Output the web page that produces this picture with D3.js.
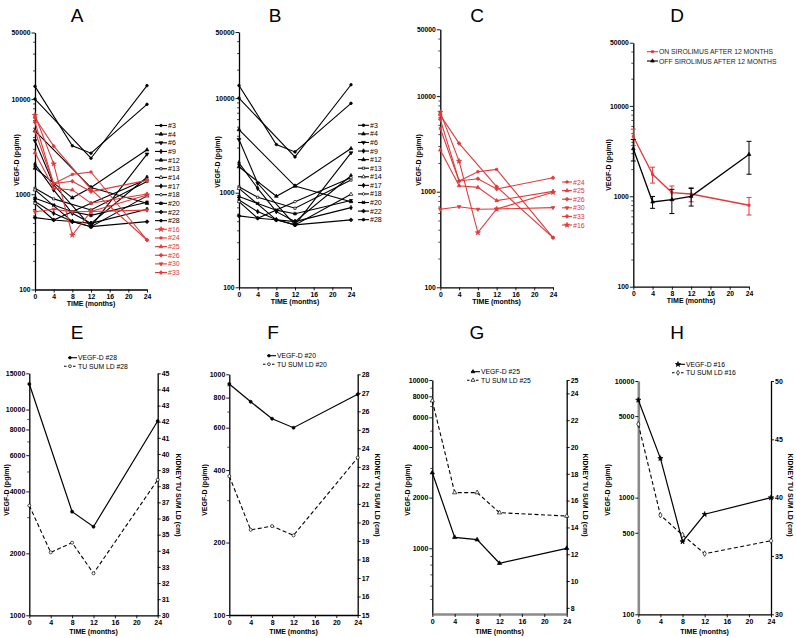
<!DOCTYPE html>
<html><head><meta charset="utf-8">
<script src="https://cdn.jsdelivr.net/npm/d3@7"></script>
<style>body{margin:0;background:#fff} svg{display:block}</style>
</head><body><svg id="c" width="796" height="638"></svg>
<script>
// ---------------- DATA ----------------
const months = [0,4,8,12,24];
const xTickVals = [0,4,8,12,16,20,24];
const topMajor = [100,1000,10000,50000];
const topMinor = [200,300,400,500,600,700,800,900,2000,3000,4000,5000,6000,7000,8000,9000,20000,30000,40000];

const blackIds = ["#3","#4","#6","#9","#12","#13","#14","#17","#18","#20","#22","#28"];
const blackVals = [
  [10000,null,null,2390,13840],
  [4640,null,null,1176,804],
  [3650,1257,null,457,2640],
  [2070,1112,631,495,1510],
  [1880,null,918,1176,2930],
  [1157,895,null,685,1360],
  [1112,null,517,457,962],
  [838,631,517,495,695],
  [804,537,null,804,1438],
  [910,770,654,600,826],
  [569,537,517,457,516],
  [13600,null,3230,2700,8800]
];
const blackMarks = [
  {s:"circle",f:1},{s:"triangle",f:1},{s:"triangle",f:1,r:180},{s:"diamond",f:1},
  {s:"triangle",f:1},{s:"square",f:0},{s:"triangle",f:0},{s:"diamond",f:1},
  {s:"circle",f:0},{s:"times",f:1},{s:"cross",f:1},{s:"circle",f:1}
];
const redIds = ["#16","#24","#25","#26","#30","#33"];
const redVals = [
  [6760,2090,373,659,985],
  [4590,1294,1618,1714,331],
  [2730,1155,1111,806,1008],
  [5710,1294,1368,1067,1400],
  [655,697,655,660,681],
  [6330,3200,null,1128,331]
];
const redMarks = [
  {s:"star",f:1},{s:"square",f:1},{s:"triangle",f:1},{s:"cross",f:1},{s:"triangle",f:1,r:180},{s:"cross",f:1}
];
const legendCOrder = ["#24","#25","#26","#30","#33","#16"];

const dLabels = ["ON SIROLIMUS AFTER 12 MONTHS","OFF SIROLIMUS AFTER 12 MONTHS"];
const dOnMean = [4590,1750,1100,1060,796];
const dOnSem  = [950,350,200,190,175];
const dOffMean = [3356,866,919,1000,2904];
const dOffSem  = [900,130,275,220,1150];

const eVegf = [13300,null,3190,2695,8790];
const eTu   = [36.8,33.9,34.5,32.6,38.4];
const fVegf = [912,769,654,600,826];
const fTu   = [22.5,19.6,19.8,19.3,23.5];
const gVegf = [2813,1162,1125,815,1000];
const gTu   = [23.45,16.6,16.6,15.1,14.85];
const hVegf = [6870,2170,420,720,1000];
const hTu   = [46.3,38.5,36.8,35.2,36.3];

// ---------------- DRAWING ----------------
const RED = "#e0393b";
const FONT = "'Liberation Sans', Arial, Helvetica, sans-serif";
const svg = d3.select("#c");

function symType(s){
  return {circle:d3.symbolCircle,triangle:d3.symbolTriangle,square:d3.symbolSquare,
    diamond:d3.symbolDiamond,cross:d3.symbolCross,star:d3.symbolStar,times:d3.symbolCross}[s];
}
function symSize(s){return {circle:9,triangle:10,square:8,diamond:10,cross:10,star:14,times:10}[s];}
function drawMarker(g,cx,cy,m,color,scale){
  scale = scale||1;
  const rot = (m.r||0) + (m.s==="times"?45:0);
  g.append("path")
    .attr("d",d3.symbol().type(symType(m.s)).size(symSize(m.s)*scale)())
    .attr("transform",`translate(${cx},${cy}) rotate(${rot})`)
    .attr("fill",m.f?color:"#fff").attr("stroke",color).attr("stroke-width",0.7);
}
function styleAxis(sel,fs,color,w){
  sel.select(".domain").attr("stroke",color||"#000").attr("stroke-width",w||1.3);
  sel.selectAll(".tick line").attr("stroke","#000").attr("stroke-width",0.9);
  sel.selectAll(".tick text").attr("font-family",FONT).attr("font-weight","bold")
    .attr("font-size",fs).attr("fill","#000");
}
function txt(g,x,y,s,o){
  o=o||{};
  const t=g.append("text").attr("x",x).attr("y",y).text(s)
    .attr("font-family",FONT).attr("font-size",o.fs||7)
    .attr("font-weight",o.bold?"bold":"normal").attr("fill",o.fill||"#000")
    .attr("text-anchor",o.anchor||"start");
  if(o.rot) t.attr("transform",`rotate(${o.rot},${x},${y})`);
  return t;
}

const TOPM = 0.6; // marker scale in top panels

function topPanel(o){
  const g = svg.append("g");
  const x = d3.scaleLinear().domain([0,24]).range([o.x0,o.x1]);
  const y = d3.scaleLog().domain([100,50000]).range([o.yb,o.yt]);
  const ay = g.append("g").attr("transform",`translate(${o.x0},0)`)
    .call(d3.axisLeft(y).tickValues(topMajor).tickFormat(d3.format("d")).tickSize(3.5).tickSizeOuter(0).tickPadding(1));
  styleAxis(ay,6.8);
  const am = g.append("g").attr("transform",`translate(${o.x0},0)`)
    .call(d3.axisLeft(y).tickValues(topMinor).tickFormat("").tickSize(2));
  am.select(".domain").remove(); am.selectAll("line").attr("stroke","#000").attr("stroke-width",0.7);
  const ax = g.append("g").attr("transform",`translate(0,${o.yb})`)
    .call(d3.axisBottom(x).tickValues(xTickVals).tickSize(3).tickSizeOuter(0).tickPadding(1.5));
  styleAxis(ax,6.8);
  txt(g,(o.x0+o.x1)/2,o.yb+16.5,"TIME (months)",{bold:1,anchor:"middle",fs:7});
  txt(g,o.ylx,o.yly,"VEGF-D (pg/ml)",{bold:1,anchor:"middle",fs:7,rot:-90});
  txt(g,o.tx,22,o.title,{fs:19,anchor:"middle"});
  return {g,x,y};
}
function drawSeries(P,vals,mark,color){
  const pts = months.map((m,i)=>({m,v:vals[i]})).filter(d=>d.v!=null);
  P.g.append("path").datum(pts)
    .attr("d",d3.line().x(d=>P.x(d.m)).y(d=>P.y(d.v)))
    .attr("fill","none").attr("stroke",color).attr("stroke-width",1.1);
  pts.forEach(d=>drawMarker(P.g,P.x(d.m),P.y(d.v),mark,color,TOPM));
}
function legendEntry(g,x0,x1,y,label,mark,color,fs,textColor){
  g.append("line").attr("x1",x0).attr("x2",x1).attr("y1",y).attr("y2",y)
    .attr("stroke",color).attr("stroke-width",1.1);
  if(mark) drawMarker(g,(x0+x1)/2,y,mark,color,TOPM);
  txt(g,x1+1,y+2.5,label,{fs:fs||7,fill:textColor||color});
}

// Panel A
const A = topPanel({x0:35,x1:147,yt:32.5,yb:289.5,ylx:19,yly:160,tx:77,title:"A"});
blackVals.forEach((v,i)=>drawSeries(A,v,blackMarks[i],"#000"));
redVals.forEach((v,i)=>drawSeries(A,v,redMarks[i],RED));
blackIds.concat(redIds).forEach((id,i)=>{
  const red = i>=blackIds.length;
  const m = red?redMarks[i-blackIds.length]:blackMarks[i];
  legendEntry(A.g,155,167,125.5+i*8.65,id,m,red?RED:"#000");
});

// Panel B
const B = topPanel({x0:239,x1:351,yt:32,yb:287.3,ylx:220,yly:162,tx:275,title:"B"});
blackVals.forEach((v,i)=>drawSeries(B,v,blackMarks[i],"#000"));
blackIds.forEach((id,i)=>legendEntry(B.g,358,369,125.3+i*8.58,id,blackMarks[i],"#000"));

// Panel C
const C = topPanel({x0:440.3,x1:553,yt:29.3,yb:287.3,ylx:421,yly:160,tx:477,title:"C"});
redVals.forEach((v,i)=>drawSeries(C,v,redMarks[i],RED));
legendCOrder.forEach((id,i)=>{
  const k = redIds.indexOf(id);
  legendEntry(C.g,562,572,182+i*8.6,id,redMarks[k],RED);
});

// Panel D
const D = topPanel({x0:633.3,x1:749,yt:42.7,yb:286.7,ylx:611,yly:165,tx:677,title:"D"});
function meanSeries(P,mean,sem,color,mark){
  const pts = months.map((m,i)=>({m,v:mean[i],s:sem[i]}));
  pts.forEach(d=>{
    const cx=P.x(d.m), y1=P.y(d.v+d.s), y2=P.y(d.v-d.s);
    P.g.append("line").attr("x1",cx).attr("x2",cx).attr("y1",y1).attr("y2",y2).attr("stroke",color).attr("stroke-width",1);
    [y1,y2].forEach(yy=>P.g.append("line").attr("x1",cx-2.5).attr("x2",cx+2.5).attr("y1",yy).attr("y2",yy).attr("stroke",color).attr("stroke-width",1));
  });
  P.g.append("path").datum(pts).attr("d",d3.line().x(d=>P.x(d.m)).y(d=>P.y(d.v)))
    .attr("fill","none").attr("stroke",color).attr("stroke-width",1.3);
  pts.forEach(d=>drawMarker(P.g,P.x(d.m),P.y(d.v),mark,color,TOPM));
}
meanSeries(D,dOnMean,dOnSem,RED,{s:"square",f:1});
meanSeries(D,dOffMean,dOffSem,"#000",{s:"triangle",f:1});
legendEntry(D.g,647,658,51.7,dLabels[0],{s:"square",f:1},RED,6.8,"#222");
legendEntry(D.g,647,658,61,dLabels[1],{s:"triangle",f:1},"#000",6.8,"#222");

// ---------------- bottom dual-axis panels ----------------
function dualPanel(o){
  const g = svg.append("g");
  const x = d3.scaleLinear().domain([0,24]).range([o.x0,o.x1]);
  const yl = d3.scaleLog().domain(o.lDom).range([o.yb,o.yt]);
  const yr = d3.scaleLinear().domain(o.rDom).range([o.yb,o.yt]);
  const al = g.append("g").attr("transform",`translate(${o.x0},0)`)
    .call(d3.axisLeft(yl).tickValues(o.lTicks).tickFormat(d3.format("d")).tickSize(3).tickSizeOuter(0).tickPadding(1));
  styleAxis(al,7,o.grayLeft?"#8a8a8a":"#000",o.grayLeft?2.6:1.3);
  if(o.lMinor){
    const am = g.append("g").attr("transform",`translate(${o.x0},0)`)
      .call(d3.axisLeft(yl).tickValues(o.lMinor).tickFormat("").tickSize(2));
    am.select(".domain").remove(); am.selectAll("line").attr("stroke","#000").attr("stroke-width",0.7);
  }
  const ar = g.append("g").attr("transform",`translate(${o.x1},0)`)
    .call(d3.axisRight(yr).tickValues(o.rTicks).tickFormat(d3.format("d")).tickSize(3).tickSizeOuter(0).tickPadding(1));
  styleAxis(ar,7);
  const ax = g.append("g").attr("transform",`translate(0,${o.yb})`)
    .call(d3.axisBottom(x).tickValues(xTickVals).tickSize(3).tickSizeOuter(0).tickPadding(2));
  styleAxis(ax,7,o.grayBottom?"#8a8a8a":"#000",o.grayBottom?2.6:1.3);
  txt(g,(o.x0+o.x1)/2,634,"TIME (months)",{bold:1,anchor:"middle",fs:7});
  txt(g,o.ylx,490,"VEGF-D (pg/ml)",{bold:1,anchor:"middle",fs:7,rot:-90});
  txt(g,o.yrx,495,"KIDNEY TU SUM LD (cm)",{bold:1,anchor:"middle",fs:7,rot:90});
  txt(g,o.tx,339,o.title,{fs:19,anchor:"middle"});
  // series
  const pv = months.map((m,i)=>({m,v:o.vegf[i]})).filter(d=>d.v!=null);
  const pt = months.map((m,i)=>({m,v:o.tu[i]})).filter(d=>d.v!=null);
  g.append("path").datum(pt).attr("d",d3.line().x(d=>x(d.m)).y(d=>yr(d.v)))
    .attr("fill","none").attr("stroke","#000").attr("stroke-width",1.1).attr("stroke-dasharray","4,2.5");
  g.append("path").datum(pv).attr("d",d3.line().x(d=>x(d.m)).y(d=>yl(d.v)))
    .attr("fill","none").attr("stroke","#000").attr("stroke-width",1.2);
  const ms = o.mark==="diamond"?0.9:0.8;
  pt.forEach(d=>drawMarker(g,x(d.m),yr(d.v),{s:o.mark,f:0},"#000",ms));
  pv.forEach(d=>drawMarker(g,x(d.m),yl(d.v),{s:o.markV||o.mark,f:1},"#000",o.markV?0.6:0.8));
  // legend
  const lx=o.lgx, ly=o.lgy;
  g.append("line").attr("x1",lx).attr("x2",lx+9).attr("y1",ly).attr("y2",ly).attr("stroke","#000").attr("stroke-width",1.1);
  drawMarker(g,lx+2,ly,{s:o.markV||o.mark,f:1},"#000",0.6);
  txt(g,lx+10,ly+2.3,"VEGF-D "+o.id,{fs:6.8});
  g.append("line").attr("x1",lx-4).attr("x2",lx+9).attr("y1",ly+8.5).attr("y2",ly+8.5).attr("stroke","#000").attr("stroke-width",1.1).attr("stroke-dasharray","2.5,2");
  drawMarker(g,lx+2,ly+8.5,{s:o.mark,f:0},"#000",0.7);
  txt(g,lx+10,ly+10.8,"TU SUM LD "+o.id,{fs:6.8});
}
const rng=(a,b,s)=>d3.range(a,b+0.001,s);
dualPanel({x0:29.3,x1:157.7,yt:373.3,yb:615.3,lDom:[1000,15000],rDom:[30,45],
  lTicks:[1000,2000,4000,6000,8000,10000,15000],lMinor:[3000,5000,7000,9000],rTicks:rng(30,45,1),
  vegf:eVegf,tu:eTu,mark:"circle",id:"#28",ylx:8.5,yrx:175.5,tx:77,title:"E",lgx:68,lgy:357.7});
dualPanel({x0:229.3,x1:357.7,yt:374.3,yb:615,lDom:[100,1000],rDom:[15,28],
  lTicks:[100,200,400,600,800,1000],lMinor:[300,500,700,900],rTicks:rng(15,28,1),
  vegf:fVegf,tu:fTu,mark:"circle",id:"#20",ylx:206.5,yrx:375,tx:273,title:"F",lgx:267,lgy:355.7});
dualPanel({x0:432.3,x1:566.7,yt:380,yb:614,lDom:[407,10000],rDom:[7.54,25],
  lTicks:[1000,2000,4000,6000,8000,10000],lMinor:[500,600,700,800,900,3000,5000,7000,9000],rTicks:rng(8,24,2).concat([25]),
  vegf:gVegf,tu:gTu,mark:"triangle",id:"#25",ylx:409.5,yrx:583,tx:477,title:"G",lgx:471,lgy:371.7,grayBottom:1});
dualPanel({x0:638.3,x1:771,yt:381,yb:614.3,lDom:[100,10000],rDom:[30,50],
  lTicks:[100,500,1000,5000,10000],rTicks:[30,35,40,45,50],
  vegf:hVegf,tu:hTu,mark:"diamond",markV:"star",id:"#16",ylx:609.5,yrx:787.5,tx:677,title:"H",lgx:676,lgy:364.3,grayLeft:1});
</script></body></html>
